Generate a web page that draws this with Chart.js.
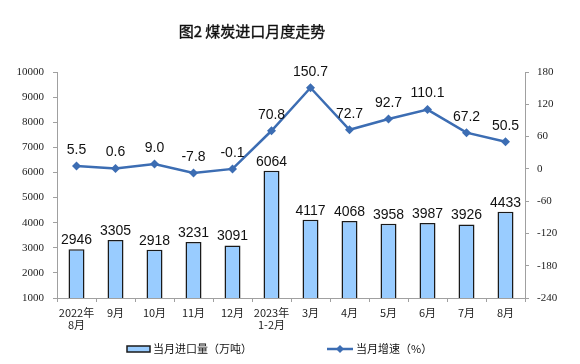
<!DOCTYPE html>
<html><head><meta charset="utf-8">
<script src="https://cdn.jsdelivr.net/npm/chart.js@4/dist/chart.umd.min.js"></script>
<style>html,body{margin:0;padding:0;background:#fff}#wrap{width:580px;height:364px;position:relative}</style>
</head><body><div id="wrap"><canvas id="c" width="580" height="364"></canvas></div>
<script>
const categories = [['2022年','8月'],'9月','10月','11月','12月',['2023年','1-2月'],'3月','4月','5月','6月','7月','8月'];
const importVolume = [2946,3305,2918,3231,3091,6064,4117,4068,3958,3987,3926,4433];
const growthRate = [5.5,0.6,9.0,-7.8,-0.1,70.8,150.7,72.7,92.7,110.1,67.2,50.5];
const leftAxis = {min:1000,max:10000,step:1000};
const rightAxis = {min:-240,max:180,step:60};
const chartTitle = '图2 煤炭进口月度走势';
const seriesNames = ['当月进口量（万吨）','当月增速（%）'];

const BAR_FILL = '#99CCFF', BAR_EDGE = '#1a1a1a', LINE_COL = '#3C6DB3', AXIS_COL = '#a0a0a0';
const CJK = '"Noto Sans CJK SC", sans-serif';

const titlePlugin = {
  id:'titleP',
  afterDraw(chart){
    const ctx = chart.ctx; ctx.save();
    ctx.font = '15px ' + CJK; ctx.fillStyle = '#111'; ctx.strokeStyle = '#111'; ctx.lineWidth = 0.4;
    ctx.textAlign = 'center'; ctx.textBaseline = 'middle';
    ctx.fillText(chartTitle, 252, 31);
    ctx.strokeText(chartTitle, 252, 31);
    ctx.restore();
  }
};
const valueLabels = {
  id:'valueLabels',
  afterDatasetsDraw(chart){
    const ctx = chart.ctx; ctx.save();
    ctx.font = '14px "Liberation Sans", Arial, sans-serif'; ctx.fillStyle = '#111';
    ctx.textAlign = 'center'; ctx.textBaseline = 'bottom';
    chart.data.datasets.forEach((ds, i) => {
      const meta = chart.getDatasetMeta(i);
      meta.data.forEach((el, j) => {
        const v = ds.data[j];
        if (ds.type === 'bar') ctx.fillText(String(v), el.x, el.y - 2);
        else ctx.fillText(v.toFixed(1), el.x, el.y - 9);
      });
    });
    ctx.restore();
  }
};
const legendPlugin = {
  id:'legendP',
  afterDraw(chart){
    const ctx = chart.ctx; ctx.save();
    const y = 349;
    ctx.fillStyle = BAR_FILL; ctx.strokeStyle = BAR_EDGE; ctx.lineWidth = 1.5;
    ctx.fillRect(127, y-3, 23, 6); ctx.strokeRect(127, y-3, 23, 6);
    ctx.font = '11px ' + CJK; ctx.fillStyle = '#111'; ctx.textBaseline = 'middle'; ctx.textAlign = 'left';
    ctx.fillText(seriesNames[0], 153, y);
    ctx.strokeStyle = LINE_COL; ctx.lineWidth = 2.5;
    ctx.beginPath(); ctx.moveTo(327, y); ctx.lineTo(353, y); ctx.stroke();
    ctx.fillStyle = LINE_COL; ctx.beginPath();
    ctx.moveTo(340, y-4); ctx.lineTo(344, y); ctx.lineTo(340, y+4); ctx.lineTo(336, y); ctx.closePath(); ctx.fill();
    ctx.fillStyle = '#111';
    ctx.fillText(seriesNames[1], 356, y);
    ctx.restore();
  }
};

new Chart(document.getElementById('c'), {
  data:{
    labels: categories,
    datasets:[
      {type:'line', label:seriesNames[1], data:growthRate, yAxisID:'y1', order:0,
       borderColor:LINE_COL, backgroundColor:LINE_COL, borderWidth:2.5, tension:0,
       pointStyle:'rectRot', pointRadius:4.5, pointBorderWidth:0, pointBackgroundColor:LINE_COL},
      {type:'bar', label:seriesNames[0], data:importVolume, yAxisID:'y', order:1,
       backgroundColor:BAR_FILL, borderColor:BAR_EDGE, borderWidth:1.5, borderSkipped:false,
       categoryPercentage:1, barPercentage:0.41}
    ]
  },
  options:{
    responsive:false, animation:false, devicePixelRatio:1,
    layout:{padding:{top:72,left:0,right:0,bottom:0}},
    plugins:{legend:{display:false}, title:{display:false}, tooltip:{enabled:false}},
    scales:{
      x:{
        grid:{display:true, drawOnChartArea:false, drawTicks:true, tickLength:4, color:AXIS_COL},
        border:{display:true, color:AXIS_COL, width:1},
        ticks:{font:{family:CJK, size:11, lineHeight:1.05}, color:'#222', padding:5, maxRotation:0, autoSkip:false},
        afterFit(s){ s.height = 66; }
      },
      y:{
        position:'left', min:leftAxis.min, max:leftAxis.max,
        grid:{display:true, drawOnChartArea:false, drawTicks:true, tickLength:4, color:AXIS_COL},
        border:{display:true, color:AXIS_COL, width:1},
        ticks:{stepSize:leftAxis.step, callback:v=>String(v), font:{family:'"Liberation Serif", serif', size:11}, color:'#222', padding:9},
        afterFit(s){ s.width = 57; }
      },
      y1:{
        position:'right', min:rightAxis.min, max:rightAxis.max,
        grid:{display:true, drawOnChartArea:false, drawTicks:true, tickLength:4, color:AXIS_COL},
        border:{display:true, color:AXIS_COL, width:1},
        ticks:{stepSize:rightAxis.step, callback:v=>String(v), font:{family:'"Liberation Serif", serif', size:11}, color:'#222', padding:8},
        afterFit(s){ s.width = 55; }
      }
    }
  },
  plugins:[titlePlugin, valueLabels, legendPlugin]
});
</script></body></html>
